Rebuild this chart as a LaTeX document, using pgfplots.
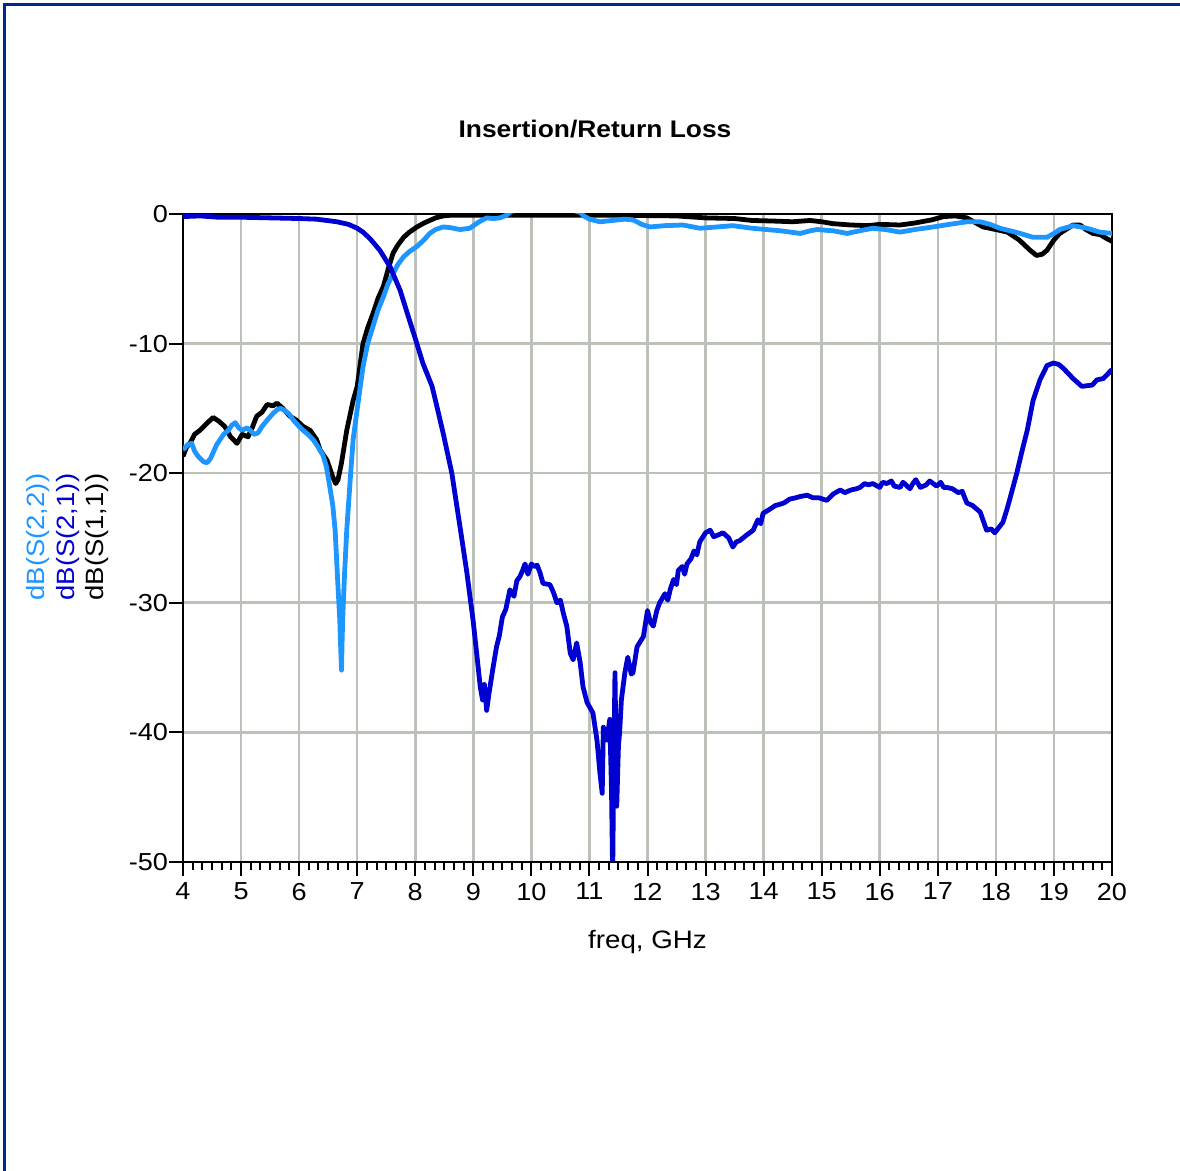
\documentclass[border=0pt]{standalone}
\usepackage{fontspec}
\setmainfont{Liberation Sans}[FakeStretch=1.1]
\setsansfont{Liberation Sans}[FakeStretch=1.1]
\usepackage{pgfplots}
\pgfplotsset{compat=1.18}
\definecolor{cS21}{RGB}{0,0,208}
\definecolor{cS22}{RGB}{30,150,255}
\definecolor{gridc}{RGB}{188,194,186}
\definecolor{framec}{RGB}{0,40,140}
\begin{document}
\begin{tikzpicture}
\useasboundingbox (0,0) rectangle (590pt,585.5pt);
\draw[framec, line width=1.6pt] (2.15pt,0) -- (2.15pt,583.35pt) -- (590pt,583.35pt);
\node[font=\fontsize{12}{14}\selectfont\bfseries] at (297.5pt,521pt) {Insertion/Return Loss};
\node[rotate=90, anchor=west, inner sep=0pt, text=cS22, font=\fontsize{12.5}{14}\selectfont] at (19pt,285pt) {dB(S(2,2))};
\node[rotate=90, anchor=west, inner sep=0pt, text=cS21, font=\fontsize{12.5}{14}\selectfont] at (34pt,285pt) {dB(S(2,1))};
\node[rotate=90, anchor=west, inner sep=0pt, text=black, font=\fontsize{12.5}{14}\selectfont] at (48.5pt,285pt) {dB(S(1,1))};
\begin{axis}[
  at={(91.5pt,154.5pt)}, anchor=south west,
  scale only axis, width=464.5pt, height=324pt,
  xmin=4, xmax=20, ymin=-50, ymax=0,
  xtick={4,5,...,20},
  xticklabels={4,5,6,7,8,9,10,11,12,13,14,15,16,17,18,19,20},
  ytick={-50,-40,-30,-20,-10,0},
  yticklabels={-50,-40,-30,-20,-10,0},
  minor x tick num=5,
  xtick pos=left, ytick pos=left,
  tick align=outside,
  major tick length=7pt, minor tick length=4pt,
  every tick/.style={black, line width=1pt},
  axis line style={black, line width=1.2pt},
  grid=major,
  major grid style={gridc, line width=1.3pt},
  tick label style={font=\fontsize{12.3}{14}\selectfont},
  yticklabel style={xshift=3pt},
  xlabel={freq, GHz},
  xlabel style={at={(axis description cs:0.5,0)}, anchor=center, yshift=-40pt, font=\fontsize{12.6}{14}\selectfont},
  every axis plot/.append style={line width=2.4pt, line join=round},
]
\addplot[black] coordinates {
(4.0,-18.7)(4.06,-18.0)(4.12,-17.7)(4.2,-17.0)(4.29,-16.7)(4.4,-16.2)(4.52,-15.7)(4.62,-16.0)(4.72,-16.4)(4.82,-17.2)(4.93,-17.7)(5.02,-17.0)(5.12,-17.2)(5.2,-16.4)(5.27,-15.6)(5.36,-15.3)(5.45,-14.7)(5.55,-14.8)(5.62,-14.6)(5.72,-15.0)(5.84,-15.6)(5.95,-15.9)(6.07,-16.4)(6.19,-16.7)(6.3,-17.4)(6.36,-18.2)(6.48,-19.0)(6.58,-20.3)(6.63,-20.8)(6.67,-20.5)(6.73,-19.2)(6.82,-16.7)(6.93,-14.4)(7.0,-13.3)(7.1,-10.0)(7.18,-8.8)(7.27,-7.7)(7.36,-6.5)(7.45,-5.6)(7.55,-4.0)(7.62,-3.0)(7.7,-2.4)(7.8,-1.8)(7.9,-1.4)(8.03,-1.0)(8.15,-0.7)(8.25,-0.5)(8.35,-0.3)(8.48,-0.15)(8.6,-0.1)(9.5,-0.1)(10.5,-0.1)(11.5,-0.1)(12.5,-0.15)(13.0,-0.3)(13.5,-0.35)(13.8,-0.5)(14.2,-0.55)(14.5,-0.6)(14.8,-0.5)(15.0,-0.6)(15.2,-0.75)(15.5,-0.85)(15.8,-0.9)(16.0,-0.8)(16.35,-0.85)(16.6,-0.7)(16.9,-0.45)(17.1,-0.2)(17.3,-0.15)(17.5,-0.3)(17.78,-1.0)(18.0,-1.2)(18.2,-1.4)(18.4,-2.0)(18.59,-2.8)(18.7,-3.2)(18.8,-3.1)(18.88,-2.8)(19.0,-2.0)(19.1,-1.5)(19.33,-0.85)(19.45,-0.85)(19.55,-1.2)(19.67,-1.5)(19.8,-1.6)(19.91,-1.9)(20.0,-2.1)
};
\addplot[cS22] coordinates {
(4.0,-18.2)(4.08,-17.8)(4.15,-17.7)(4.2,-18.3)(4.26,-18.7)(4.35,-19.1)(4.41,-19.2)(4.47,-18.9)(4.52,-18.4)(4.58,-17.8)(4.64,-17.4)(4.7,-17.0)(4.78,-16.7)(4.84,-16.3)(4.9,-16.1)(4.96,-16.5)(5.02,-16.7)(5.1,-16.5)(5.16,-16.7)(5.22,-17.0)(5.29,-16.9)(5.36,-16.4)(5.45,-15.9)(5.55,-15.4)(5.62,-15.1)(5.68,-15.0)(5.73,-15.1)(5.82,-15.4)(5.9,-15.9)(6.0,-16.4)(6.07,-16.7)(6.15,-17.0)(6.24,-17.4)(6.33,-18.0)(6.41,-18.6)(6.47,-19.5)(6.53,-21.1)(6.58,-22.5)(6.62,-24.4)(6.67,-28.8)(6.7,-31.3)(6.72,-34.0)(6.73,-35.2)(6.74,-33)(6.75,-31.3)(6.78,-28)(6.82,-24.4)(6.88,-20.5)(6.93,-17.4)(7.02,-14.4)(7.1,-11.8)(7.18,-10.0)(7.27,-8.7)(7.36,-7.4)(7.45,-6.4)(7.53,-5.4)(7.62,-4.6)(7.7,-3.9)(7.8,-3.3)(7.9,-2.9)(8.03,-2.5)(8.15,-2.0)(8.25,-1.5)(8.35,-1.2)(8.48,-1.0)(8.6,-1.05)(8.77,-1.2)(8.94,-1.1)(9.1,-0.6)(9.23,-0.3)(9.35,-0.35)(9.46,-0.3)(9.57,-0.1)(9.65,0.2)(10.0,0.5)(10.5,0.6)(10.85,0.1)(10.9,-0.15)(11.0,-0.4)(11.18,-0.6)(11.4,-0.5)(11.6,-0.4)(11.75,-0.45)(11.9,-0.8)(12.04,-1.0)(12.3,-0.9)(12.61,-0.85)(12.9,-1.1)(13.2,-1.0)(13.47,-0.9)(13.8,-1.1)(14.05,-1.2)(14.3,-1.3)(14.63,-1.5)(14.8,-1.3)(14.92,-1.2)(15.2,-1.3)(15.44,-1.5)(15.65,-1.3)(15.88,-1.1)(16.1,-1.2)(16.35,-1.4)(16.6,-1.2)(16.92,-1.0)(17.2,-0.8)(17.5,-0.6)(17.73,-0.6)(17.9,-0.8)(18.07,-1.1)(18.25,-1.3)(18.42,-1.5)(18.64,-1.8)(18.88,-1.8)(19.0,-1.5)(19.1,-1.2)(19.33,-0.9)(19.57,-1.1)(19.79,-1.4)(20.0,-1.5)
};
\addplot[cS21] coordinates {
(4.0,-0.2)(4.3,-0.15)(4.6,-0.25)(5.0,-0.25)(5.5,-0.3)(6.0,-0.35)(6.3,-0.4)(6.65,-0.6)(6.85,-0.8)(7.0,-1.1)(7.1,-1.4)(7.22,-1.9)(7.39,-2.8)(7.57,-4.1)(7.74,-5.9)(7.88,-7.9)(8.0,-9.6)(8.13,-11.5)(8.29,-13.3)(8.37,-14.8)(8.48,-16.9)(8.63,-20.0)(8.8,-25.0)(8.89,-27.7)(9.0,-31.5)(9.06,-34)(9.12,-36.5)(9.16,-37.5)(9.19,-36.3)(9.23,-38.3)(9.27,-37)(9.34,-35)(9.4,-33.4)(9.45,-32.5)(9.5,-31.1)(9.56,-30.5)(9.63,-29)(9.7,-29.5)(9.75,-28.3)(9.8,-28)(9.85,-27.5)(9.89,-27)(9.94,-27.8)(10.0,-27)(10.05,-27.2)(10.1,-27.1)(10.15,-27.7)(10.2,-28.5)(10.32,-28.6)(10.38,-29.2)(10.44,-30)(10.5,-29.8)(10.55,-30.8)(10.61,-31.8)(10.67,-33.9)(10.72,-34.4)(10.78,-33.1)(10.84,-34.6)(10.89,-36.5)(10.96,-37.7)(11.06,-38.5)(11.13,-40.6)(11.18,-43.1)(11.22,-44.7)(11.24,-39.6)(11.3,-40.6)(11.35,-39)(11.38,-44.4)(11.40,-51)(11.42,-42)(11.44,-35.4)(11.47,-45.7)(11.5,-41)(11.52,-40)(11.55,-37.5)(11.61,-35.4)(11.66,-34.2)(11.72,-35.5)(11.75,-35.4)(11.82,-33.4)(11.93,-32.6)(12.0,-30.6)(12.05,-31.5)(12.1,-31.8)(12.16,-30.6)(12.21,-30)(12.3,-29.3)(12.35,-29.8)(12.39,-29)(12.45,-28.2)(12.5,-28.6)(12.53,-27.5)(12.6,-27.2)(12.64,-27.8)(12.68,-27)(12.75,-26.6)(12.8,-26)(12.85,-26.3)(12.9,-25.3)(13.0,-24.6)(13.08,-24.4)(13.14,-24.9)(13.2,-24.8)(13.3,-24.6)(13.4,-25)(13.47,-25.7)(13.53,-25.3)(13.59,-25.2)(13.7,-24.8)(13.82,-24.4)(13.9,-23.6)(13.95,-23.9)(13.99,-23.1)(14.1,-22.8)(14.2,-22.5)(14.28,-22.4)(14.35,-22.3)(14.45,-22.0)(14.55,-21.9)(14.63,-21.8)(14.75,-21.7)(14.85,-21.9)(14.95,-21.9)(15.09,-22.1)(15.2,-21.6)(15.32,-21.3)(15.4,-21.5)(15.5,-21.3)(15.6,-21.2)(15.66,-21.1)(15.74,-20.8)(15.8,-20.9)(15.88,-20.8)(16.0,-21.1)(16.05,-20.7)(16.12,-20.8)(16.2,-20.6)(16.25,-21.0)(16.35,-21.1)(16.4,-20.7)(16.45,-20.9)(16.52,-21.2)(16.57,-20.8)(16.62,-20.5)(16.7,-21.1)(16.8,-20.9)(16.86,-20.6)(16.92,-20.8)(16.98,-21.0)(17.05,-20.7)(17.1,-21.1)(17.16,-21.1)(17.25,-21.2)(17.35,-21.5)(17.42,-21.4)(17.5,-22.3)(17.6,-22.5)(17.73,-23.0)(17.84,-24.4)(17.92,-24.3)(17.98,-24.6)(18.05,-24.2)(18.12,-23.8)(18.19,-22.8)(18.24,-22.0)(18.36,-20.0)(18.45,-18.3)(18.54,-16.7)(18.64,-14.4)(18.76,-12.8)(18.88,-11.7)(18.99,-11.5)(19.08,-11.6)(19.16,-11.9)(19.33,-12.7)(19.48,-13.3)(19.66,-13.2)(19.74,-12.8)(19.85,-12.7)(20.0,-12.0)
};
\end{axis}
\end{tikzpicture}
\end{document}
